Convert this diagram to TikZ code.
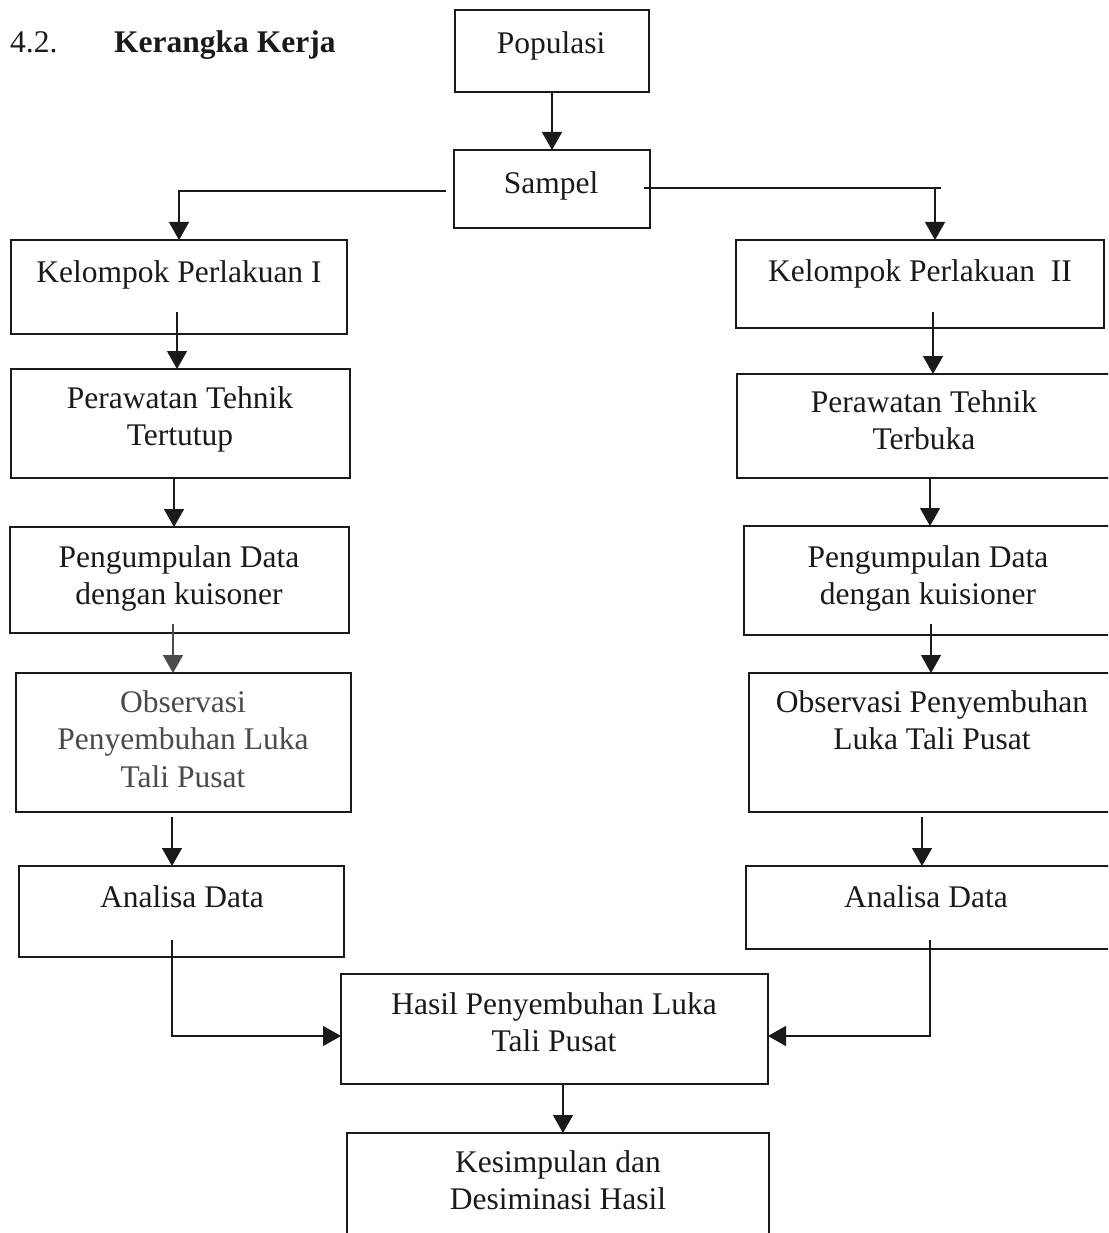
\documentclass[tikz,border=0pt]{standalone}
\usepackage{fontspec}
\setmainfont{Liberation Serif}
\usetikzlibrary{arrows.meta,calc}
\definecolor{ink}{HTML}{1A1A1A}
\definecolor{inkl}{HTML}{4A4A4A}
\tikzset{
  box/.style={draw=ink, line width=1.6pt, inner sep=0pt, outer sep=0pt, anchor=north west},
  arr/.style={draw=ink, line width=1.4pt, -{Triangle[width=20pt,length=18pt]}},
  txt/.style={align=center, inner sep=0pt, outer sep=0pt, anchor=north, text=ink,
    font=\fontsize{31.5pt}{37pt}\selectfont},
}
\begin{document}
\begin{tikzpicture}[x=1pt,y=-1pt]
\clip (0,0) rectangle (1108,1233);
\fill[white] (0,0) rectangle (1108,1233);
% title
\node[inner sep=0pt, anchor=base west, text=ink, font=\fontsize{31.5pt}{37pt}\selectfont] (tnum) at (10,53) {4.2.};
\node[inner sep=0pt, anchor=base west, text=ink, font=\fontsize{31.5pt}{37pt}\selectfont\bfseries] (ttl) at (114,53) {Kerangka Kerja};
% boxes
\node[box, minimum width=194pt, minimum height=82pt] (pop) at (455,10) {};
\node[box, minimum width=196pt, minimum height=78pt] (samp) at (454,150) {};
\node[box, minimum width=336pt, minimum height=94pt] (k1) at (11,240) {};
\node[box, minimum width=368pt, minimum height=88pt] (k2) at (736,240) {};
\node[box, minimum width=339pt, minimum height=109pt] (p1) at (11,369) {};
\node[box, minimum width=378pt, minimum height=104pt] (p2) at (737,374) {};
\node[box, minimum width=339pt, minimum height=106pt] (g1) at (10,527) {};
\node[box, minimum width=371pt, minimum height=109pt] (g2) at (744,526) {};
\node[box, minimum width=335pt, minimum height=139pt] (o1) at (16,673) {};
\node[box, minimum width=366pt, minimum height=139pt] (o2) at (749,673) {};
\node[box, minimum width=325pt, minimum height=91pt] (a1) at (19,866) {};
\node[box, minimum width=369pt, minimum height=83pt] (a2) at (746,866) {};
\node[box, minimum width=427pt, minimum height=110pt] (h) at (341,974) {};
\node[box, minimum width=422pt, minimum height=112pt] (ks) at (347,1133) {};
% texts (y = first baseline - 21.4)
\node[txt] (tpop) at (551,31.6) {Populasi};
\node[txt] (tsamp) at (551,171.6) {Sampel};
\node[txt] (tk1) at (179,260.6) {Kelompok Perlakuan I};
\node[txt] (tk2) at (920,259.6) {Kelompok Perlakuan\ \ II};
\node[txt] (tp1) at (180,386.6) {Perawatan Tehnik\\Tertutup};
\node[txt] (tp2) at (924,390.6) {Perawatan Tehnik\\Terbuka};
\node[txt] (tg1) at (179,545.6) {Pengumpulan Data\\dengan kuisoner};
\node[txt] (tg2) at (928,545.6) {Pengumpulan Data\\dengan kuisioner};
\node[txt, text=inkl, font=\fontsize{31.5pt}{37.5pt}\selectfont] (to1) at (183,690.6) {Observasi\\Penyembuhan Luka\\Tali Pusat};
\node[txt] (to2) at (932,690.6) {Observasi Penyembuhan\\Luka Tali Pusat};
\node[txt] (ta1) at (182,885.6) {Analisa Data};
\node[txt] (ta2) at (926,885.6) {Analisa Data};
\node[txt] (th) at (554,992.6) {Hasil Penyembuhan Luka\\Tali Pusat};
\node[txt] (tks) at (558,1150.6) {Kesimpulan dan\\Desiminasi Hasil};
% connector start points
\coordinate (xr1) at (935,0);
\coordinate (sr) at ([shift={(-6,-1)}]samp.east);
\coordinate (sl) at ([shift={(-8,2)}]samp.west);
\coordinate (s1) at (177,312);
\coordinate (s2) at (933,312);
\coordinate (s3) at (174,478);
\coordinate (s4) at (930,478);
\coordinate (s5) at (173,624);
\coordinate (s6) at (931,624);
\coordinate (s7) at (172,817);
\coordinate (s8) at (922,817);
\coordinate (s9) at (172,940);
\coordinate (s10) at (930,940);
\coordinate (s11) at (563,1084);
% connectors
\draw[arr] (pop.south) -- (pop.south |- samp.north);
\draw[arr] (sl) -| (k1.north);
\draw[arr] (sr) -| (xr1 |- k2.north);
\draw[draw=ink, line width=1.4pt] (sr) -- ([xshift=6pt]xr1 |- sr);
\draw[arr] (s1) -- (s1 |- p1.north);
\draw[arr] (s2) -- (s2 |- p2.north);
\draw[arr] (s3) -- (s3 |- g1.north);
\draw[arr] (s4) -- (s4 |- g2.north);
\draw[arr, draw=inkl] (s5) -- (s5 |- o1.north);
\draw[arr] (s6) -- (s6 |- o2.north);
\draw[arr] (s7) -- (s7 |- a1.north);
\draw[arr] (s8) -- (s8 |- a2.north);
\draw[arr] (s9) |- ([yshift=-7pt]h.west);
\draw[arr] (s10) |- ([yshift=-7pt]h.east);
\draw[arr] (s11) -- (s11 |- ks.north);
\end{tikzpicture}
\end{document}
